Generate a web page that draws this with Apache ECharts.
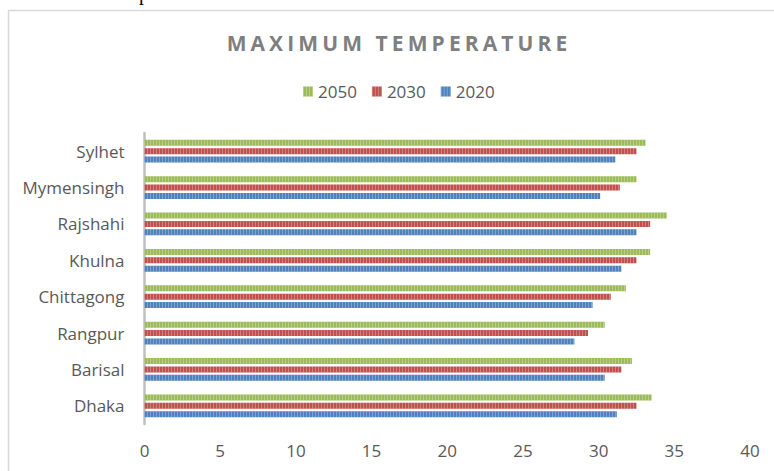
<!DOCTYPE html>
<html>
<head>
<meta charset="utf-8">
<script src="https://cdn.jsdelivr.net/npm/echarts@6/dist/echarts.min.js"></script>
<style>
  html, body { margin: 0; padding: 0; background: #ffffff; }
  #chart { width: 774px; height: 471px; }
</style>
</head>
<body>
<div id="chart"></div>
<script>
// Cities, listed bottom to top as they appear on the category axis
const cities = ['Dhaka', 'Barisal', 'Rangpur', 'Chittagong', 'Khulna', 'Rajshahi', 'Mymensingh', 'Sylhet'];

// Maximum temperature (°C) per city and year
const temp2020 = [31.2, 30.4, 28.4, 29.6, 31.5, 32.5, 30.1, 31.1];
const temp2030 = [32.5, 31.5, 29.3, 30.8, 32.5, 33.4, 31.4, 32.5];
const temp2050 = [33.5, 32.2, 30.4, 31.8, 33.4, 34.5, 32.5, 33.1];

const years = ['2050', '2030', '2020'];
const xTicks = [0, 5, 10, 15, 20, 25, 30, 35, 40];

const FONT = '"Open Sans", "Liberation Sans", sans-serif';
const TEXT_GREY = '#595959';

// light vertical stripe pattern laid over each bar
function stripes() {
  return {
    symbol: 'rect',
    symbolSize: 1,
    dashArrayX: [1, 2],
    dashArrayY: [4, 0],
    rotation: 0,
    color: 'rgba(255,255,255,0.28)'
  };
}

function barSeries(name, data, color) {
  return {
    name: name,
    type: 'bar',
    data: data,
    barWidth: 6,
    barGap: '40%',
    barCategoryGap: '30%',
    itemStyle: { color: color, decal: stripes() },
    emphasis: { disabled: true }
  };
}

const chart = echarts.init(document.getElementById('chart'), null, { renderer: 'svg' });

chart.setOption({
  animation: false,
  backgroundColor: '#ffffff',
  title: {
    text: 'MAXIMUM TEMPERATURE',
    left: 394,
    top: 27,
    textAlign: 'center',
    textStyle: {
      fontFamily: FONT,
      fontSize: 21,
      fontWeight: 'bold',
      color: '#7f7f7f'
    }
  },
  legend: {
    data: years,
    left: 298,
    top: 78,
    icon: 'rect',
    itemWidth: 10,
    itemHeight: 10,
    itemGap: 15,
    textStyle: { fontFamily: FONT, fontSize: 17, color: TEXT_GREY }
  },
  grid: {
    left: 144.5,
    right: 24,
    top: 133,
    bottom: 47,
    containLabel: false
  },
  xAxis: {
    type: 'value',
    min: xTicks[0],
    max: xTicks[xTicks.length - 1],
    interval: xTicks[1] - xTicks[0],
    axisLine: { show: false },
    axisTick: { show: false },
    splitLine: { show: false },
    axisLabel: {
      margin: 18,
      fontFamily: FONT,
      fontSize: 17,
      color: TEXT_GREY
    }
  },
  yAxis: {
    type: 'category',
    data: cities,
    axisLine: { show: true, lineStyle: { color: '#bfbfbf', width: 2.5 } },
    axisTick: { show: false },
    axisLabel: {
      margin: 20,
      fontFamily: FONT,
      fontSize: 17,
      color: TEXT_GREY
    }
  },
  // first series sits on top inside each category band
  series: [
    barSeries('2050', temp2050, '#9BBB59'),
    barSeries('2030', temp2030, '#C0504D'),
    barSeries('2020', temp2020, '#4F81BD')
  ],
  graphic: [
    {
      type: 'polyline',
      silent: true,
      shape: { points: [[8.5, 471], [8.5, 10.5], [774, 10.5]] },
      style: { stroke: '#d9d9d9', lineWidth: 1.5, fill: null }
    },
    {
      type: 'text',
      silent: true,
      x: 139,
      y: 3,
      style: {
        text: 'p',
        font: '20px "Liberation Serif", serif',
        fill: '#000000',
        verticalAlign: 'bottom'
      }
    }
  ]
});

// widen the tracking of the chart title
function spaceTitle() {
  const texts = document.querySelectorAll('#chart svg text');
  texts.forEach(function (t) {
    if (t.textContent === 'MAXIMUM TEMPERATURE') {
      t.setAttribute('letter-spacing', '4.1px');
    }
  });
}
chart.on('rendered', spaceTitle);
spaceTitle();
</script>
</body>
</html>
